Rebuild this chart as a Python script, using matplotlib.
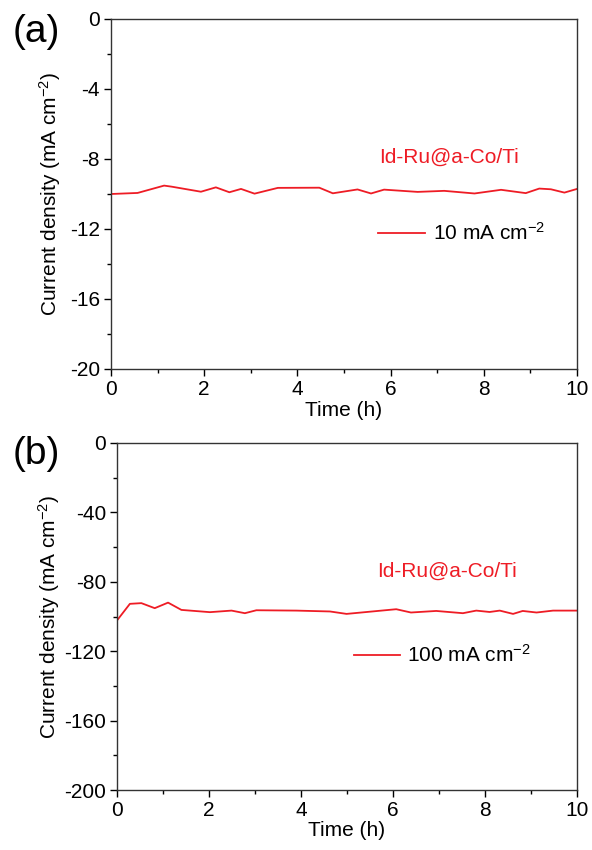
import matplotlib
matplotlib.use("Agg")
import matplotlib.pyplot as plt
from matplotlib.ticker import MultipleLocator

plt.rcParams['font.family'] = ['Liberation Sans', 'DejaVu Sans']
plt.rcParams['axes.unicode_minus'] = False
plt.rcParams['mathtext.fontset'] = 'custom'
plt.rcParams['mathtext.rm'] = 'Liberation Sans'
plt.rcParams['mathtext.it'] = 'Liberation Sans'

# panel (a): 10 mA cm-2
time_a = [0.0, 0.57, 1.14, 1.30, 1.93, 2.25, 2.54, 2.79, 3.08, 3.58, 4.47, 4.76,
          5.29, 5.58, 5.86, 6.58, 7.15, 7.80, 8.37, 8.90, 9.19, 9.44, 9.73, 10.0]
current_a = [-10.0, -9.94, -9.52, -9.58, -9.87, -9.62, -9.90, -9.71, -9.98, -9.65,
             -9.64, -9.96, -9.74, -9.97, -9.75, -9.88, -9.82, -9.97, -9.76, -9.95,
             -9.69, -9.73, -9.92, -9.71]

# panel (b): 100 mA cm-2
time_b = [0.02, 0.28, 0.53, 0.82, 1.11, 1.40, 2.02, 2.49, 2.78, 3.03, 3.90, 4.63,
          4.99, 6.07, 6.39, 6.94, 7.52, 7.81, 8.10, 8.32, 8.61, 8.82, 9.12, 9.48, 10.0]
current_b = [-101.6, -92.7, -92.3, -95.2, -92.0, -96.2, -97.5, -96.6, -98.1, -96.4,
             -96.6, -97.1, -98.5, -95.8, -97.7, -96.8, -98.1, -96.6, -97.4, -96.6,
             -98.5, -96.8, -97.7, -96.6, -96.6]

sample = 'Id-Ru@a-Co/Ti'
red = '#ee1c25'
fs = 15

fig = plt.figure(figsize=(5.92, 8.5), dpi=100)
ax1 = fig.add_axes([111/592, 1-369/850, 466/592, 350/850])
ax2 = fig.add_axes([117/592, 1-790/850, 460/592, 347/850])

def style(ax, ymin, ystep, label_x):
    ax.set_xlim(0, 10)
    ax.set_ylim(ymin, 0)
    ax.xaxis.set_major_locator(MultipleLocator(2))
    ax.xaxis.set_minor_locator(MultipleLocator(1))
    ax.yaxis.set_major_locator(MultipleLocator(ystep))
    ax.yaxis.set_minor_locator(MultipleLocator(ystep / 2))
    ax.tick_params(which='major', direction='out', length=5, width=1, labelsize=fs, pad=3)
    ax.tick_params(which='minor', direction='out', length=3, width=1)
    for s in ax.spines.values():
        s.set_linewidth(1)
        s.set_color('#333333')
    ax.set_xlabel('Time (h)', fontsize=fs, labelpad=1)
    ax.set_ylabel('Current density (mA cm$^{-2}$)', fontsize=fs)
    ax.yaxis.set_label_coords(label_x, 0.5)

# (a)
ax1.plot(time_a, current_a, color=red, lw=1.3)
style(ax1, -20, 4, -0.104)
ax1.text(7.25, -7.9, sample, color=red, fontsize=fs, ha='center', va='center')
ax1.plot([5.73, 6.74], [-12.2, -12.2], color=red, lw=1.3)
ax1.text(6.9, -12.2, '10 mA cm$^{-2}$', fontsize=fs, va='center')
fig.text(36/592, 1-32/850, '(a)', fontsize=28, ha='center', va='center')

# (b)
ax2.plot(time_b, current_b, color=red, lw=1.3)
style(ax2, -200, 40, -0.12)
ax2.text(7.17, -73.8, sample, color=red, fontsize=fs, ha='center', va='center')
ax2.plot([5.15, 6.15], [-122, -122], color=red, lw=1.3)
ax2.text(6.3, -122, '100 mA cm$^{-2}$', fontsize=fs, va='center')
fig.text(36/592, 1-454/850, '(b)', fontsize=28, ha='center', va='center')

fig.savefig('out.png', dpi=100)
